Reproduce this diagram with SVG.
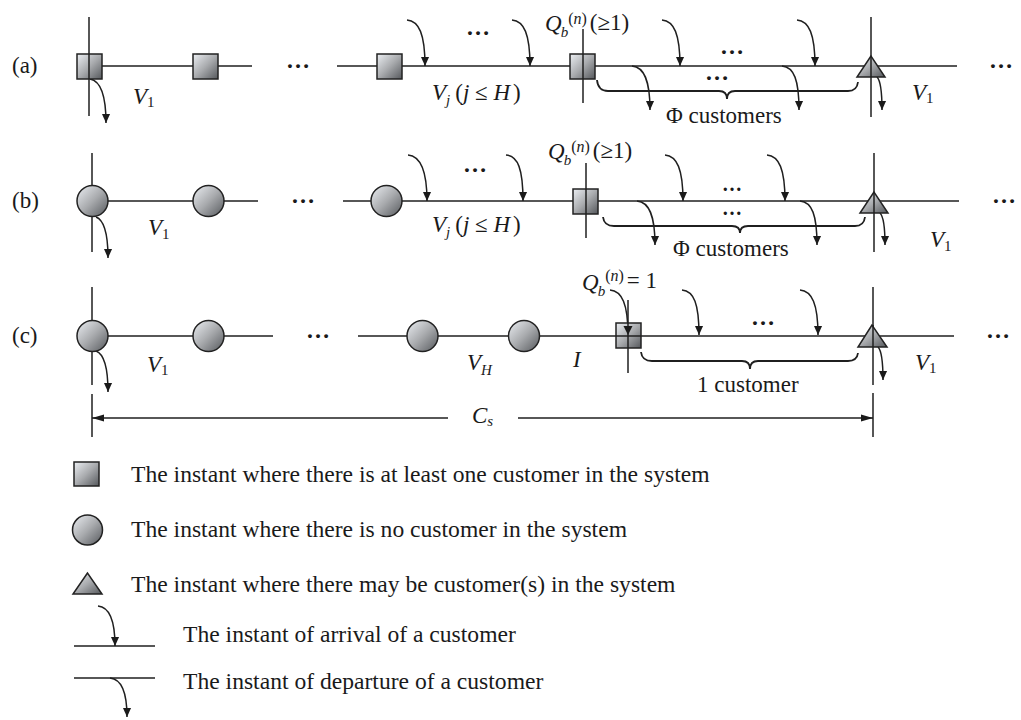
<svg xmlns="http://www.w3.org/2000/svg" width="1021" height="720" viewBox="0 0 1021 720">
<defs>
<linearGradient id="g" x1="0" y1="0" x2="1" y2="1">
<stop offset="0" stop-color="#eceff3"/>
<stop offset="0.5" stop-color="#a9abae"/>
<stop offset="1" stop-color="#55585c"/>
</linearGradient>
<marker id="ah" viewBox="0 0 10 10" refX="10" refY="5" markerWidth="9" markerHeight="9" markerUnits="userSpaceOnUse" orient="auto">
<path d="M0,0.5 L10,5 L0,9.5 z" fill="#1a1a1a"/>
</marker>
<marker id="dh" viewBox="0 0 12 8" refX="12" refY="4" markerWidth="12" markerHeight="8" markerUnits="userSpaceOnUse" orient="auto">
<path d="M0,0.5 L12,4 L0,7.5 z" fill="#1a1a1a"/>
</marker>
</defs>
<style>
.ln{stroke:#1f1f1f;stroke-width:1.5;fill:none}
.ar{stroke:#1f1f1f;stroke-width:1.5;fill:none;marker-end:url(#ah)}
.br{stroke:#1f1f1f;stroke-width:1.8;fill:none}
.dm{stroke:#1f1f1f;stroke-width:1.4;fill:none;marker-end:url(#dh)}
.sh{fill:url(#g);stroke:#222;stroke-width:1.5}
text{font-family:"Liberation Serif","Times New Roman",serif;fill:#1a1a1a}
.t{font-size:23px}
.i{font-size:23px;font-style:italic}
.sub{font-size:15px}
.subi{font-size:15px;font-style:italic}
.sup{font-size:16px}
.lg{font-size:23.6px}
.dots{font-size:24px;font-weight:bold;text-anchor:middle}
.dots2{font-size:20px;font-weight:bold;text-anchor:middle}
</style>
<rect width="1021" height="720" fill="#ffffff"/>

<g id="connectors">
<!-- row a -->
<line class="ln" x1="77" y1="66" x2="252" y2="66"/>
<line class="ln" x1="337" y1="66" x2="957" y2="66"/>
<line class="ln" x1="89" y1="17" x2="89" y2="116"/>
<line class="ln" x1="583" y1="29" x2="583" y2="103"/>
<line class="ln" x1="871" y1="17" x2="871" y2="117"/>
<path class="ar" d="M407,20 C419,21 425,34 425,66"/>
<path class="ar" d="M512,20 C524,21 530,34 530,66"/>
<path class="ar" d="M662,20 C674,21 680,34 680,66"/>
<path class="ar" d="M797,20 C809,21 815,34 815,66"/>
<path class="ar" d="M90,79 C101,81 106,95 106,123"/>
<path class="ar" d="M632,66 C644,67 650,80 650,110"/>
<path class="ar" d="M782,66 C794,67 799,80 799,110"/>
<path class="ar" d="M877,77 C880,80 882,88 882,110"/>
<path class="br" d="M597,80 Q598,91 608,91 L719,91 Q727,91 727,99 Q727,91 735,91 L848,91 Q857,91 858,82"/>
<!-- row b -->
<line class="ln" x1="92" y1="201" x2="258" y2="201"/>
<line class="ln" x1="343" y1="201" x2="959" y2="201"/>
<line class="ln" x1="92" y1="153" x2="92" y2="252"/>
<line class="ln" x1="586" y1="163" x2="586" y2="238"/>
<line class="ln" x1="874" y1="153" x2="874" y2="252"/>
<path class="ar" d="M408,155 C420,156 427,169 427,201"/>
<path class="ar" d="M506,155 C518,156 523,169 523,201"/>
<path class="ar" d="M665,155 C677,156 683,169 683,201"/>
<path class="ar" d="M767,155 C779,156 785,169 785,201"/>
<path class="ar" d="M96,217 C104,220 108,232 108,258"/>
<path class="ar" d="M637,201 C649,202 655,215 655,245"/>
<path class="ar" d="M800,201 C812,202 817,215 817,245"/>
<path class="ar" d="M880,213 C883,216 885,224 885,245"/>
<path class="br" d="M603,217 Q604,226 614,226 L732,226 Q740,226 740,233 Q740,226 748,226 L855,226 Q864,226 865,217"/>
<!-- row c -->
<line class="ln" x1="92" y1="336" x2="273" y2="336"/>
<line class="ln" x1="358" y1="336" x2="954" y2="336"/>
<line class="ln" x1="92" y1="287" x2="92" y2="385"/>
<line class="ln" x1="628" y1="300" x2="628" y2="373"/>
<line class="ln" x1="873" y1="287" x2="873" y2="385"/>
<path class="ar" d="M610,290 C622,291 628,304 628,335"/>
<path class="ar" d="M682,290 C694,291 699,304 699,335"/>
<path class="ar" d="M800,290 C812,291 818,304 818,335"/>
<path class="ar" d="M96,351 C104,354 108,366 108,392"/>
<path class="ar" d="M878,347 C881,350 883,358 883,380"/>
<path class="br" d="M641,352 Q642,361 652,361 L742,361 Q750,361 750,369 Q750,361 758,361 L848,361 Q857,361 858,353"/>
<!-- dimension Cs -->
<line class="ln" x1="92" y1="394" x2="92" y2="437"/>
<line class="ln" x1="873" y1="393" x2="873" y2="437"/>
<path class="dm" d="M448,418 L92,418"/>
<path class="dm" d="M518,418 L873,418"/>
<!-- legend -->
<line class="ln" x1="74" y1="646" x2="155" y2="646"/>
<path class="ar" d="M98,606 C109,607 115,619 115,646"/>
<line class="ln" x1="74" y1="678" x2="155" y2="678"/>
<path class="ar" d="M110,678 C121,679 127,692 127,717"/>
</g>

<!-- row a nodes -->
<g id="a-sq1"><rect class="sh" x="77" y="54" width="25" height="25"/><line class="ln" x1="89" y1="54" x2="89" y2="79"/></g>
<g id="a-sq2"><rect class="sh" x="193" y="54" width="25" height="25"/></g>
<g id="a-sq3"><rect class="sh" x="377" y="54" width="25" height="25"/></g>
<g id="a-sq4"><rect class="sh" x="570" y="54" width="25" height="25"/><line class="ln" x1="583" y1="54" x2="583" y2="79"/></g>
<g id="a-tri"><polygon class="sh" points="871,56 857,77 885,77"/><line class="ln" x1="871" y1="56" x2="871" y2="77"/></g>

<!-- row b nodes -->
<g id="b-c1"><circle class="sh" cx="92.5" cy="201" r="15.5"/></g>
<g id="b-c2"><circle class="sh" cx="208.5" cy="201" r="15.5"/></g>
<g id="b-c3"><circle class="sh" cx="386.5" cy="201" r="15.5"/></g>
<g id="b-sq"><rect class="sh" x="573" y="189" width="25" height="25"/><line class="ln" x1="586" y1="189" x2="586" y2="214"/></g>
<g id="b-tri"><polygon class="sh" points="874,192 860,213 888,213"/><line class="ln" x1="874" y1="192" x2="874" y2="213"/></g>

<!-- row c nodes -->
<g id="c-c1"><circle class="sh" cx="92.5" cy="336" r="15.5"/></g>
<g id="c-c2"><circle class="sh" cx="208.5" cy="336" r="15.5"/></g>
<g id="c-c3"><circle class="sh" cx="422.5" cy="336" r="15.5"/></g>
<g id="c-c4"><circle class="sh" cx="524" cy="336" r="15.5"/></g>
<g id="c-sq"><rect class="sh" x="616" y="323" width="25" height="25"/><line class="ln" x1="628" y1="323" x2="628" y2="348"/><line class="ln" x1="616" y1="336" x2="641" y2="336"/><path d="M623.5,326 L632.5,326 L628,335 z" fill="#1a1a1a"/></g>
<g id="c-tri"><polygon class="sh" points="872,325 858,347 887,347"/><line class="ln" x1="873" y1="325" x2="873" y2="347"/></g>

<!-- legend nodes -->
<g id="leg-sq"><rect class="sh" x="74" y="462" width="25" height="24"/></g>
<g id="leg-c"><circle class="sh" cx="87.5" cy="530" r="15"/></g>
<g id="leg-tri"><polygon class="sh" points="87.5,573 73,594 102,594"/></g>

<g id="labels">
<text class="t" x="12" y="73">(a)</text>
<text class="t" x="12" y="208">(b)</text>
<text class="t" x="12" y="343">(c)</text>

<!-- row a -->
<text x="133" y="104"><tspan class="i">V</tspan><tspan class="sub" dy="3">1</tspan></text>
<text x="912" y="100"><tspan class="i">V</tspan><tspan class="sub" dy="3">1</tspan></text>
<text x="432" y="100"><tspan class="i">V</tspan><tspan class="subi" dy="5">j</tspan><tspan class="t" dx="5" dy="-5">(</tspan><tspan class="i">j</tspan><tspan class="t"> ≤ </tspan><tspan class="i">H</tspan><tspan class="t" dx="3">)</tspan></text>
<text x="545" y="31"><tspan class="i">Q</tspan><tspan class="subi" dx="-1" dy="6">b</tspan><tspan class="sup" dx="0" dy="-13">(<tspan font-style="italic">n</tspan>)</tspan><tspan class="t" dx="3" dy="6">(≥1)</tspan></text>
<text class="t" x="666" y="123">Φ customers</text>
<text class="dots" x="298" y="68">…</text>
<text class="dots" x="478" y="35">…</text>
<text class="dots" x="732" y="54">…</text>
<text class="dots" x="717" y="80">…</text>
<text class="dots" x="1001" y="68">…</text>

<!-- row b -->
<text x="148" y="235"><tspan class="i">V</tspan><tspan class="sub" dy="4">1</tspan></text>
<text x="930" y="247"><tspan class="i">V</tspan><tspan class="sub" dy="4">1</tspan></text>
<text x="432" y="232"><tspan class="i">V</tspan><tspan class="subi" dy="5">j</tspan><tspan class="t" dx="5" dy="-5">(</tspan><tspan class="i">j</tspan><tspan class="t"> ≤ </tspan><tspan class="i">H</tspan><tspan class="t" dx="3">)</tspan></text>
<text x="548" y="159"><tspan class="i">Q</tspan><tspan class="subi" dx="-1" dy="6">b</tspan><tspan class="sup" dx="0" dy="-13">(<tspan font-style="italic">n</tspan>)</tspan><tspan class="t" dx="3" dy="6">(≥1)</tspan></text>
<text class="t" x="673" y="256">Φ customers</text>
<text class="dots" x="303" y="203">…</text>
<text class="dots" x="475" y="172">…</text>
<text class="dots2" x="732" y="191">…</text>
<text class="dots2" x="732" y="215">…</text>
<text class="dots" x="1004" y="203">…</text>

<!-- row c -->
<text x="147" y="372"><tspan class="i">V</tspan><tspan class="sub" dy="3">1</tspan></text>
<text x="915" y="370"><tspan class="i">V</tspan><tspan class="sub" dy="3">1</tspan></text>
<text x="467" y="370"><tspan class="i">V</tspan><tspan class="subi" dy="5">H</tspan></text>
<text class="i" x="573" y="367">I</text>
<text x="582" y="290"><tspan class="i">Q</tspan><tspan class="subi" dx="-1" dy="6">b</tspan><tspan class="sup" dy="-15">(<tspan font-style="italic">n</tspan>)</tspan><tspan class="t" dx="3" dy="7">= 1</tspan></text>
<text class="t" x="697" y="392">1 customer</text>
<text class="dots" x="318" y="338">…</text>
<text class="dots" x="763" y="325">…</text>
<text class="dots" x="998" y="338">…</text>
<text x="472" y="423"><tspan class="i">C</tspan><tspan class="subi" font-size="17" dy="3">s</tspan></text>

<!-- legend -->
<text class="lg" x="131" y="482">The instant where there is at least one customer in the system</text>
<text class="lg" x="131" y="537">The instant where there is no customer in the system</text>
<text class="lg" x="131" y="592">The instant where there may be customer(s) in the system</text>
<text class="lg" x="183" y="642">The instant of arrival of a customer</text>
<text class="lg" x="183" y="689">The instant of departure of a customer</text>
</g>
</svg>
